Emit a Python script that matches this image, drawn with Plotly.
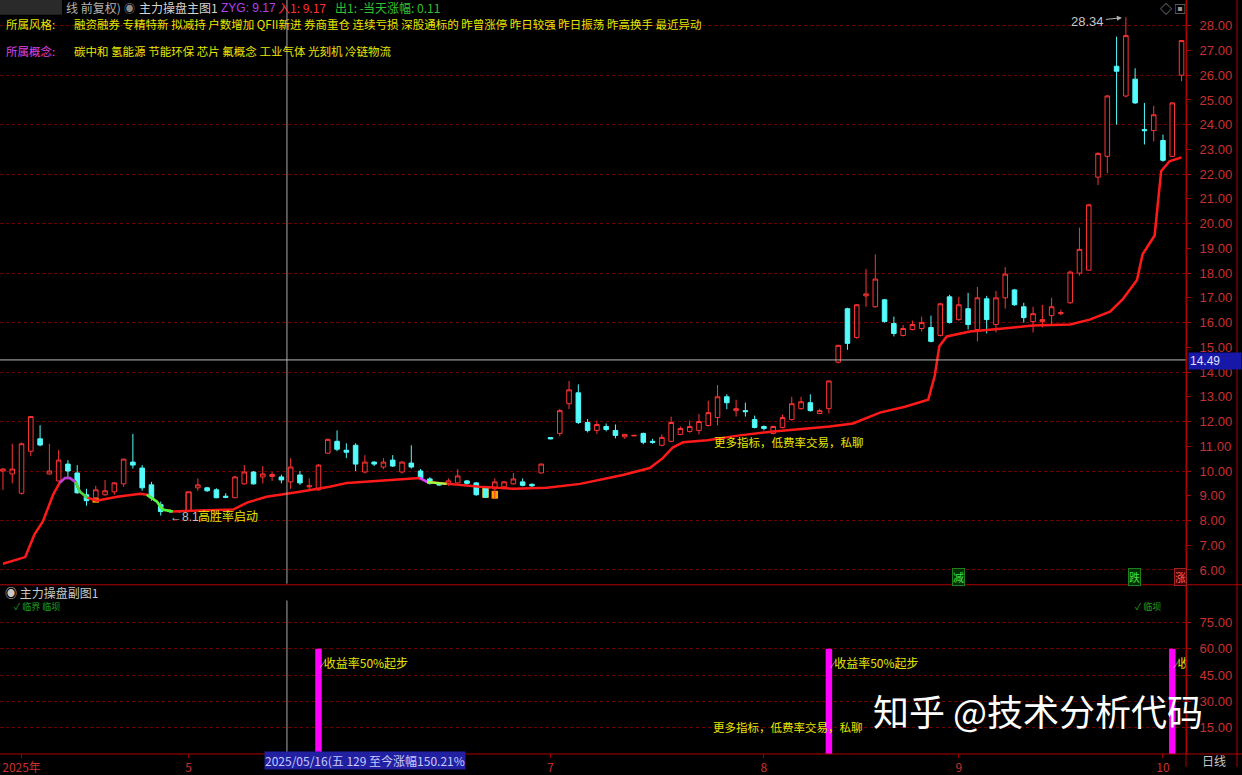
import plotly.graph_objects as go

# ---------------- data ----------------
idx = list(range(128))
opens = [10.0, 9.88, 9.1, 10.8, 11.3, 9.88, 9.6, 10.28, 9.92, 9.04,
         8.92, 9.04, 9.16, 9.48, 10.36, 10.12, 9.44, 8.64, 8.4, 8.38,
         8.4, 9.32, 9.32, 9.24, 8.98, 8.92, 9.48, 9.96, 9.76, 9.78,
         9.76, 9.56, 9.84, 9.36, 9.24, 10.72, 11.2, 10.84, 11.04, 9.96,
         10.36, 10.16, 10.44, 9.96, 10.32, 10.0, 9.68, 9.46, 9.48, 9.52,
         9.6, 9.52, 9.32, 9.28, 9.36, 9.48, 9.56, 9.46, 9.92, 11.35,
         11.52, 12.72, 13.16, 11.96, 11.64, 11.8, 11.64, 11.38, 11.42, 11.52,
         11.2, 11.04, 11.2, 11.48, 11.6, 11.64, 11.84, 12.16, 13.0, 12.44,
         12.44, 12.08, 11.8, 11.52, 11.76, 12.08, 12.52, 12.76, 12.32, 12.52,
         14.4, 16.56, 15.4, 17.08, 16.64, 16.92, 15.96, 15.48, 15.72, 15.76,
         15.8, 15.48, 17.04, 16.12, 16.56, 15.72, 16.96, 15.92, 17.0, 17.32,
         16.64, 16.04, 16.04, 16.28, 16.36, 16.8, 18.0, 18.12, 21.88, 22.72,
         26.36, 25.16, 25.84, 23.8, 23.76, 23.36, 22.72, 26.0]
highs = [10.12, 11.1, 11.15, 12.22, 11.85, 11.1, 10.85, 10.44, 10.24, 9.28,
         9.4, 9.64, 9.55, 10.5, 11.5, 10.24, 9.56, 8.76, 8.45, 8.42,
         9.16, 9.7, 9.36, 9.3, 9.1, 9.8, 10.24, 10.0, 10.2, 9.96,
         9.85, 10.52, 10.0, 9.7, 10.28, 11.3, 11.64, 11.12, 11.12, 10.64,
         10.4, 10.52, 10.64, 10.4, 11.04, 10.08, 9.75, 9.5, 9.7, 10.08,
         9.64, 9.56, 9.35, 9.7, 9.6, 9.92, 9.7, 9.5, 10.3, 11.36,
         12.5, 13.64, 13.5, 12.1, 12.04, 11.92, 11.88, 11.5, 11.46, 11.55,
         11.3, 11.48, 12.2, 11.8, 12.04, 12.3, 12.84, 13.48, 13.1, 12.88,
         12.76, 12.24, 11.84, 11.84, 12.28, 13.0, 13.0, 13.1, 12.52, 13.66,
         15.1, 16.6, 16.75, 18.16, 18.76, 16.96, 16.24, 15.9, 16.08, 16.24,
         16.28, 16.8, 17.12, 17.04, 17.2, 17.44, 17.08, 17.28, 18.24, 17.36,
         16.8, 16.64, 16.72, 17.0, 16.52, 18.1, 19.84, 20.8, 22.88, 25.2,
         27.56, 28.34, 26.28, 24.88, 24.76, 23.6, 24.9, 27.42]
lows = [9.24, 9.5, 9.05, 10.6, 11.0, 9.85, 9.58, 9.76, 9.08, 8.6,
        8.9, 9.0, 9.04, 9.36, 10.1, 9.2, 8.8, 8.2, 8.3, 8.32,
        8.35, 9.2, 9.16, 8.9, 8.9, 8.9, 9.45, 9.45, 9.5, 9.6,
        9.5, 9.28, 9.44, 9.24, 9.2, 10.7, 10.8, 10.52, 10.0, 9.9,
        10.2, 10.08, 10.16, 9.9, 10.1, 9.68, 9.45, 9.4, 9.4, 9.5,
        9.44, 9.0, 8.92, 8.9, 9.3, 9.45, 9.38, 9.36, 9.9, 11.28,
        11.4, 12.5, 11.9, 11.56, 11.5, 11.6, 11.32, 11.3, 11.4, 11.08,
        11.1, 11.0, 11.16, 11.45, 11.55, 11.48, 11.8, 11.84, 12.5, 12.2,
        12.2, 11.72, 11.64, 11.48, 11.72, 12.04, 12.48, 12.4, 12.3, 12.32,
        14.35, 14.9, 15.35, 16.64, 16.6, 16.0, 15.44, 15.44, 15.68, 15.64,
        15.2, 15.44, 15.96, 16.08, 15.72, 15.24, 15.56, 15.6, 16.56, 16.68,
        16.0, 15.6, 15.8, 15.9, 16.3, 16.76, 17.9, 18.1, 21.56, 22.04,
        24.0, 25.1, 24.84, 23.2, 23.32, 22.5, 22.7, 25.76]
closes = [10.08, 10.08, 11.1, 12.2, 11.05, 10.0, 10.44, 10.0, 9.12, 8.8,
          9.24, 9.2, 9.52, 10.48, 10.24, 9.32, 8.92, 8.36, 8.36, 8.36,
          9.16, 9.44, 9.2, 8.92, 8.94, 9.76, 9.96, 9.48, 9.88, 9.86,
          9.64, 10.16, 9.52, 9.4, 10.24, 11.28, 10.88, 10.76, 10.28, 10.36,
          10.28, 10.36, 10.2, 10.36, 10.16, 9.72, 9.5, 9.44, 9.6, 9.8,
          9.5, 9.04, 8.94, 9.56, 9.56, 9.68, 9.42, 9.4, 10.28, 11.3,
          12.44, 13.28, 11.96, 11.64, 11.88, 11.68, 11.44, 11.48, 11.44, 11.16,
          11.16, 11.36, 11.96, 11.72, 11.8, 12.0, 12.36, 13.0, 12.76, 12.52,
          12.4, 11.76, 11.72, 11.8, 12.16, 12.72, 12.8, 12.44, 12.44, 13.64,
          15.08, 15.16, 16.72, 17.16, 17.76, 16.04, 15.56, 15.76, 15.92, 16.0,
          15.24, 16.76, 16.0, 16.72, 15.92, 17.0, 16.12, 17.0, 17.96, 16.72,
          16.2, 16.36, 16.12, 16.64, 16.4, 18.04, 18.96, 20.76, 22.84, 25.16,
          26.16, 27.6, 24.88, 23.76, 24.4, 22.56, 24.88, 27.4]

# main-force line (read at points along the curve: candle index, price)
ma_x = [0, 2.4, 3.4, 4.3, 5.4, 6.1, 6.7, 7.2, 7.8, 8.3, 9.1, 10.1, 12.3, 14.8, 15.5,
        16.6, 17.2, 18.3, 21.2, 24.8, 26.3, 28.4, 32.0, 35.2, 37.1, 40.6, 44.9, 45.7,
        47.8, 51.4, 55.0, 58.6, 62.2, 66.8, 69.7, 71.1, 72.2, 73.3, 75.9, 79.4, 83.0,
        86.6, 89.1, 91.6, 94.5, 97.2, 99.7, 100.4, 100.9, 101.7, 104.2, 107.8, 111.0,
        115.0, 117.1, 119.3, 120.7, 122.2, 122.8, 124.1, 124.8, 125.7, 127.0]
ma_y = [6.25, 6.52, 7.44, 7.96, 9.04, 9.52, 9.72, 9.72, 9.56, 9.16, 8.92, 8.8, 8.96, 9.08, 9.04,
        8.76, 8.44, 8.36, 8.4, 8.44, 8.72, 8.96, 9.16, 9.36, 9.52, 9.6, 9.72, 9.56,
        9.48, 9.36, 9.28, 9.32, 9.48, 9.84, 10.12, 10.52, 10.96, 11.16, 11.24, 11.44, 11.6,
        11.72, 11.8, 11.92, 12.36, 12.6, 12.88, 13.84, 15.04, 15.44, 15.64, 15.76, 15.88,
        15.92, 16.12, 16.44, 16.96, 17.72, 18.76, 19.52, 22.12, 22.52, 22.68]

# signal blocks on the candles
sig_idx = [10, 20, 52, 53]
sig_lo = [8.72, 8.40, 8.92, 8.88]
sig_hi = [8.90, 9.16, 9.32, 9.20]

# sub chart signal bars and their labels (last one cut by the panel edge)
bar_idx = [34, 89, 126]
bar_val = [60, 60, 60]
bar_lbl = ["收益率50%起步", "收益率50%起步", "收"]

price_ticks = list(range(6, 29))
sub_ticks = [15, 30, 45, 60, 75]
month_idx = [2, 20, 59, 82, 103, 125]
month_txt = ["2025年", "5", "7", "8", "9", "10"]

cursor_idx = 30.6
cursor_price = 14.49
peak_idx, peak_price = 121, 28.34

# ---------------- layout helpers ----------------
W, H = 1242, 775
ML, MR, MT, MB = 0, 56, 0, 13
PW, PH = W - ML - MR, H - MT - MB


def px(x):
    return (x - ML) / PW


def py(y):
    return 1 - (y - MT) / PH


CJK = "Noto Sans CJK SC"
LAT = "Liberation Sans"
RED = "#c83030"
YEL = "#e6e600"
GRID = "#6a0000"

fig = go.Figure()

fig.add_trace(go.Candlestick(
    x=idx, open=opens, high=highs, low=lows, close=closes,
    increasing=dict(line=dict(color="#ff3434", width=1), fillcolor="#000000"),
    decreasing=dict(line=dict(color="#54fcfc", width=1), fillcolor="#54fcfc"),
    whiskerwidth=0, xaxis="x", yaxis="y", hoverinfo="skip"))

sig_colors = ["#ffa500", "#ff1a1a", "#ffb400", "#ffa000"]
fig.add_trace(go.Bar(
    x=sig_idx, y=[h - l for h, l in zip(sig_hi, sig_lo)], base=sig_lo,
    width=0.7, marker=dict(color=sig_colors, line=dict(width=0)),
    xaxis="x", yaxis="y", hoverinfo="skip"))

fig.add_trace(go.Scatter(x=ma_x, y=ma_y, mode="lines",
                         line=dict(color="#ff1a1a", width=2.5),
                         xaxis="x", yaxis="y", hoverinfo="skip"))

for a, b, col in [(6.0, 7.8, "#b040e0"), (7.8, 9.1, "#40e040"), (15.5, 18.3, "#40ff40"),
                  (44.9, 45.7, "#d040ff"), (45.7, 47.8, "#a0ff40")]:
    sx = [x for x in ma_x if a <= x <= b]
    sy = [y for x, y in zip(ma_x, ma_y) if a <= x <= b]
    fig.add_trace(go.Scatter(x=sx, y=sy, mode="lines", line=dict(color=col, width=2.5),
                             xaxis="x", yaxis="y", hoverinfo="skip"))

fig.add_trace(go.Bar(x=bar_idx, y=bar_val, width=0.7,
                     marker=dict(color="#ff00ff", line=dict(width=0)),
                     xaxis="x2", yaxis="y2", hoverinfo="skip"))

fig.add_trace(go.Scatter(
    x=[i + 0.35 for i in bar_idx], y=[51] * len(bar_idx), mode="text",
    text=["<span style='color:#ffb0ff'>⁄</span>" + t for t in bar_lbl],
    textposition="middle right", textfont=dict(color=YEL, size=12, family=CJK),
    cliponaxis=True, xaxis="x2", yaxis="y2", hoverinfo="skip"))

xr = [-0.32, 127.48]
fig.update_layout(
    width=W, height=H, paper_bgcolor="#000000", plot_bgcolor="#000000",
    margin=dict(l=ML, r=MR, t=MT, b=MB), showlegend=False, hovermode=False,
    font=dict(family=LAT + ", " + CJK, color=RED),
    barmode="overlay",
    xaxis=dict(domain=[0, 1], range=xr, anchor="y", showticklabels=False,
               showgrid=False, zeroline=False, rangeslider=dict(visible=False)),
    yaxis=dict(domain=[py(590), 1], range=[5.44, 29.04], side="right", anchor="x",
               tickvals=price_ticks, ticktext=["%.2f" % v for v in price_ticks],
               tickfont=dict(color=RED, size=13, family=LAT), ticks="outside",
               ticklen=4, tickcolor="#a00000", showgrid=False, zeroline=False,
               showline=True, linecolor="#b00000", ticklabelstandoff=6),
    yaxis3=dict(overlaying="y", range=[5.44, 29.04], side="right", anchor="x",
                dtick=2, tick0=0, showticklabels=False, showgrid=True,
                gridcolor=GRID, griddash="dot", gridwidth=1, zeroline=False),
    xaxis2=dict(domain=[0, 1], range=xr, anchor="y2", tickvals=month_idx,
                ticktext=month_txt, tickfont=dict(color=RED, size=12, family=CJK),
                ticks="outside", ticklen=3, tickcolor="#a00000", showgrid=False,
                zeroline=False),
    yaxis2=dict(domain=[0, py(592)], range=[0, 95.9], side="right", anchor="x2",
                tickvals=sub_ticks, ticktext=["%.2f" % v for v in sub_ticks],
                tickfont=dict(color=RED, size=13, family=LAT), ticks="outside",
                ticklen=4, tickcolor="#a00000", showgrid=True, gridcolor=GRID,
                griddash="dot", zeroline=False, showline=True, linecolor="#b00000",
                ticklabelstandoff=6),
)
# keep the gridline axis attached
fig.add_trace(go.Scatter(x=[None], y=[None], xaxis="x", yaxis="y3", hoverinfo="skip"))

shapes = [
    dict(type="rect", xref="paper", yref="paper", x0=px(0), x1=px(62), y0=py(15), y1=py(0),
         fillcolor="#2a2a2a", line=dict(width=0), layer="below"),
    dict(type="line", xref="x", yref="y", x0=cursor_idx, x1=cursor_idx, y0=5.44, y1=29.04,
         line=dict(color="#a8a8a8", width=1)),
    dict(type="line", xref="x2", yref="y2", x0=cursor_idx, x1=cursor_idx, y0=0, y1=87.5,
         line=dict(color="#a8a8a8", width=1)),
    dict(type="line", xref="paper", yref="y", x0=0, x1=1, y0=cursor_price, y1=cursor_price,
         line=dict(color="#b8b8b8", width=1)),
    dict(type="line", xref="paper", yref="paper", x0=px(0), x1=px(W), y0=py(591), y1=py(591),
         line=dict(color="#b00000", width=1)),
    dict(type="line", xref="paper", yref="paper", x0=px(0), x1=px(W), y0=py(762), y1=py(762),
         line=dict(color="#b00000", width=1)),
    dict(type="line", xref="paper", yref="paper", x0=px(1186), x1=px(1186), y0=py(H), y1=py(0),
         line=dict(color="#b00000", width=1)),
    dict(type="line", xref="paper", yref="paper", x0=px(1237), x1=px(1237), y0=py(H), y1=py(0),
         line=dict(color="#b00000", width=1)),
]
fig.update_layout(shapes=shapes)


def ann(text, x, y, color, size=12, xanchor="left", family=CJK, **kw):
    return dict(text=text, x=px(x), y=py(y), xref="paper", yref="paper",
                xanchor=xanchor, yanchor="middle", showarrow=False,
                font=dict(color=color, size=size, family=family), **kw)


styles = "融资融券 专精特新 拟减持 户数增加 QFII新进 券商重仓 连续亏损 深股通标的 昨曾涨停 昨日较强 昨日振荡 昨高换手 最近异动"
concepts = "碳中和 氢能源 节能环保 芯片 氟概念 工业气体 光刻机 冷链物流"

anns = [
    ann("线 前复权)", 64, 8, "#b4b4b4", 12),
    ann("◉", 122, 8, "#8a8a8a", 11),
    ann("主力操盘主图1", 137, 8, "#d4d4d4", 12),
    ann("ZYG: 9.17", 219, 8, "#b040f0", 12, family=LAT),
    ann("入1: 9.17", 276, 8, "#ff3030", 12),
    ann("出1: -", 333, 8, "#30c030", 12),
    ann("当天涨幅: 0.11", 361, 8, "#30c030", 12),
    ann("所属风格:", 4, 24, YEL, 11.5),
    ann(styles, 72, 24, YEL, 11.5),
    ann("所属概念:", 4, 52, "#e040e0", 11.5),
    ann(concepts, 72, 52, YEL, 11.5),
    ann("◇", 1158, 9, "#9a9a9a", 12),
    ann("▣", 1172, 9, "#9a9a9a", 12),
    ann("←8.1", 168, 522, "#c0c0c0", 12, family=LAT),
    ann("高胜率启动", 196, 521, YEL, 12),
    ann("更多指标，低费率交易，私聊", 712, 447, YEL, 11.5),
    ann("更多指标，低费率交易，私聊", 711, 735, YEL, 11.5),
    ann("◉ 主力操盘副图1", 3, 599, "#c8c8c8", 12),
    ann("✓ 临界 临坝", 12, 613, "#1fa01f", 9),
    ann("✓ 临坝", 1133, 613, "#1fa01f", 9),
    ann("减", 958, 583, "#40e040", 11, xanchor="center", bgcolor="#003000",
        bordercolor="#208020", borderpad=0),
    ann("跌", 1134, 583, "#40e040", 11, xanchor="center", bgcolor="#003000",
        bordercolor="#208020", borderpad=0),
    ann("涨", 1180, 583, "#ff6060", 11, xanchor="center", bgcolor="#400000",
        bordercolor="#a02020", borderpad=0),
    ann("14.49", 1188, 365, "#e0e0ff", 12, family=LAT, bgcolor="#1818a8",
        width=50, align="left", borderpad=1),
    ann("2025/05/16(五 129 至今涨幅150.21%", 264, 769, "#c8c8ff", 12,
        bgcolor="#2020a0", borderpad=0),
    ann("日线", 1200, 769, "#c8c8c8", 12),
    ann("知乎 @技术分析代码", 1038, 718, "#ffffff", 36, xanchor="center"),
    dict(text="28.34", x=peak_idx, y=peak_price, xref="x", yref="y", showarrow=True,
         ax=-38, ay=4, arrowhead=2, arrowsize=1, arrowwidth=1, arrowcolor="#b0b0b0",
         standoff=4, font=dict(color="#c8c8c8", size=13, family=LAT)),
]
fig.update_layout(annotations=anns)

fig.write_html("out.html", config={"displayModeBar": False},
               post_script="document.body.style.margin='0';"
                           "document.body.style.background='#000';")
